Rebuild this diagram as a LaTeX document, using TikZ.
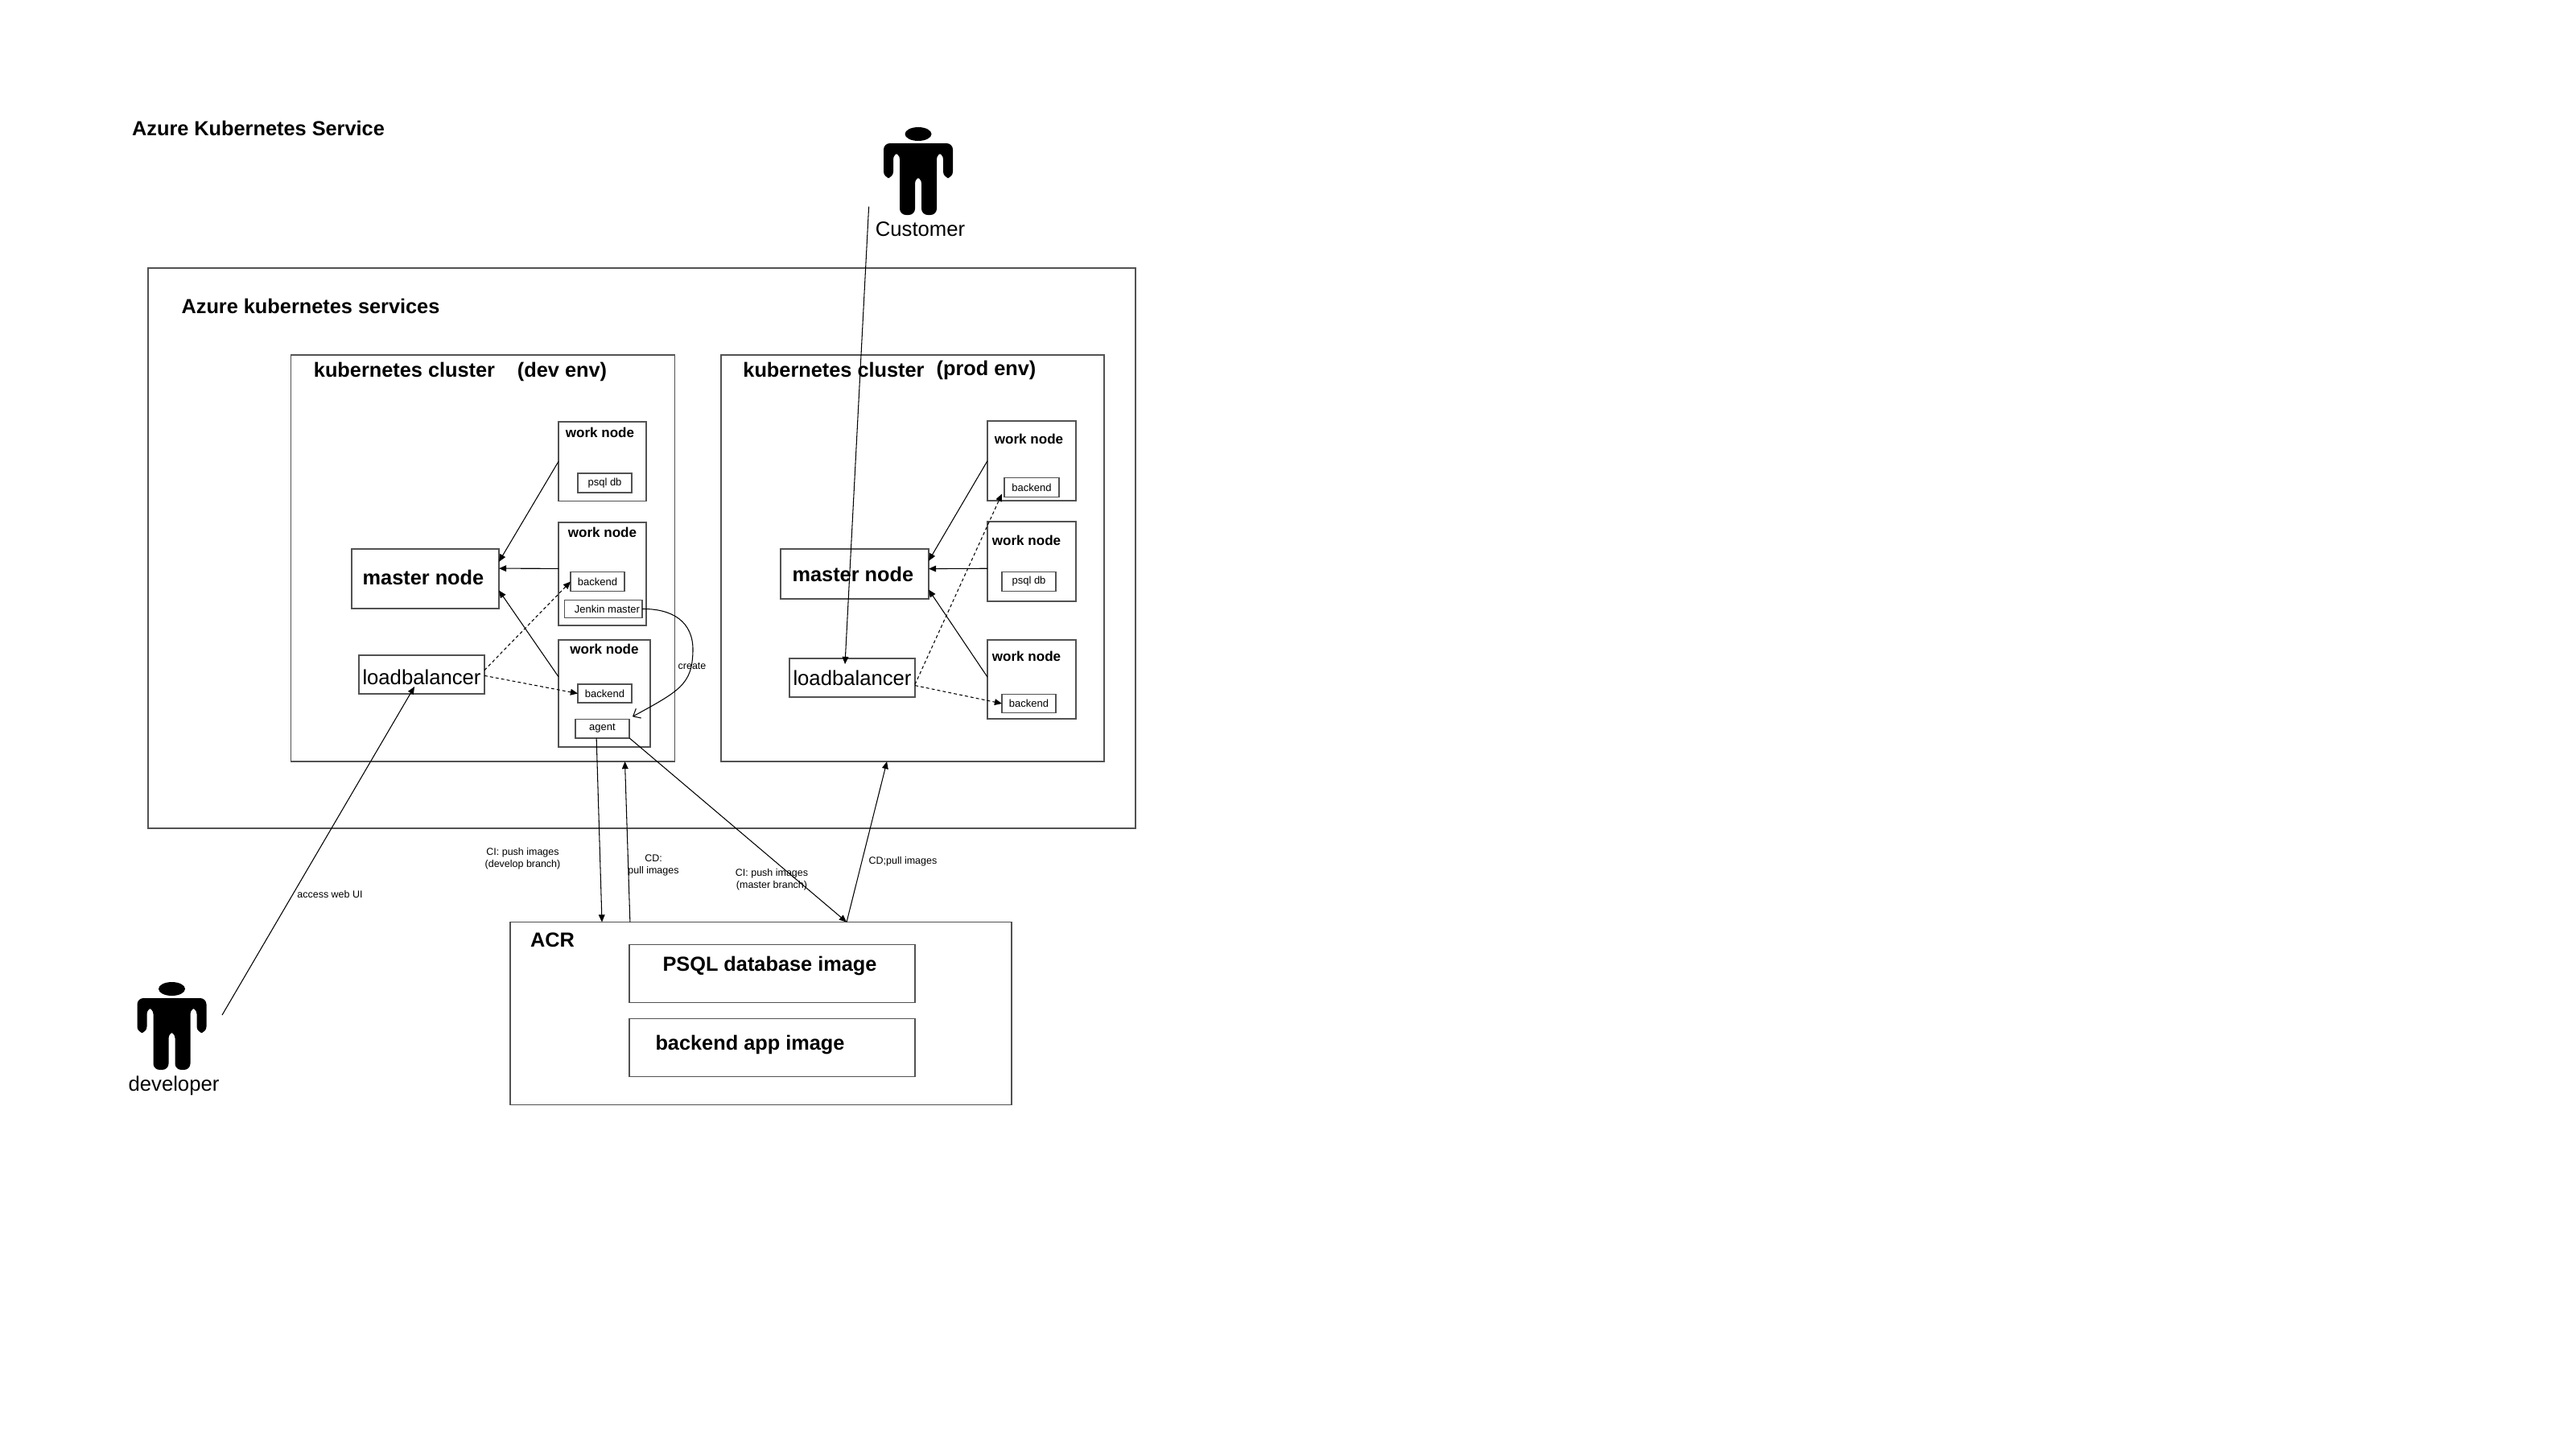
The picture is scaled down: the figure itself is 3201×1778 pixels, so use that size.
\documentclass[tikz,border=0pt]{standalone}
\usepackage{fontspec}
\setmainfont{Liberation Sans}
\usetikzlibrary{arrows.meta,calc}

\tikzset{
    boxline/.style={draw=black!68, line width=0.42pt, inner sep=0pt, outer sep=0pt, align=center},
    wh/.style 2 args={minimum width=#1*0.01cm, minimum height=#2*0.01cm},
    bigbold/.style={font=\fontsize{7.2}{8.6}\selectfont\bfseries, inner sep=0pt},
    bigplain/.style={font=\fontsize{7.3}{8.7}\selectfont, inner sep=0pt},
    workbold/.style={font=\fontsize{4.85}{5.8}\selectfont\bfseries, inner sep=0pt},
    smallbox/.style={boxline, font=\fontsize{3.7}{4.4}\selectfont},
    edgetext/.style={font=\fontsize{3.55}{4.27}\selectfont, inner sep=0pt, align=center},
    flow/.style={->, line width=0.3pt, draw=black},
    lbflow/.style={->, line width=0.3pt, draw=black, dash pattern=on 1.1pt off 0.9pt},
    person/.pic={
        \fill (0,8.5) ellipse [x radius=16.5, y radius=8.5];
        \fill[rounded corners=2.2pt] (-43,63) -- (-43,20) -- (43,20) -- (43,63) -- (31,63) -- (31,32)
            -- (23,32) -- (23,109) -- (4,109) -- (4,62) -- (-4,62) -- (-4,109) -- (-23,109)
            -- (-23,32) -- (-31,32) -- (-31,63) -- cycle;
    }
}

\begin{document}
\begin{tikzpicture}[x=0.01cm, y=-0.01cm, >={Triangle[length=2.6pt, width=2.2pt]}]
    \useasboundingbox (0,0) rectangle (3201,1778);

    % titles
    \node[bigbold] (titleAks) at (321,159) {Azure Kubernetes Service};
    \node[boxline, wh={1227}{696}] (aksBox) at (797.5,681) {};
    \node[bigbold] (aksLabel) at (386,380.5) {Azure kubernetes services};

    % people
    \pic at (1141,158) {person};
    \pic at (213.5,1220) {person};
    \node[bigplain] (customer) at (1143.5,285) {Customer};
    \node[bigplain] (developer) at (216,1349) {developer};
    \coordinate (customerFoot) at (1079.6,256.7);
    \coordinate (developerFoot) at (276,1261);

    % dev cluster
    \node[boxline, wh={477}{505}] (devCluster) at (600,693.5) {};
    \node[bigbold] (devClusterLabel) at (502.5,459) {kubernetes cluster};
    \node[bigbold] (devEnvLabel) at (698.5,462) {(dev env)};
    \node[boxline, wh={183}{74}] (masterDev) at (528.5,719) {};
    \node[bigbold] (masterDevLabel) at (526,717) {master node};
    \node[boxline, wh={156}{48}] (lbDev) at (524,838) {};
    \node[bigplain] (lbDevLabel) at (524,841.5) {loadbalancer};

    \node[boxline, wh={109}{98.5}] (workDevA) at (748.5,573.25) {};
    \node[workbold] (workDevALabel) at (745.5,537) {work node};
    \node[smallbox, wh={67}{24}] (psqlDev) at (751.5,600) {psql db};

    \node[boxline, wh={109}{128}] (workDevB) at (748.5,713) {};
    \node[workbold] (workDevBLabel) at (748.5,661) {work node};
    \node[smallbox, wh={67}{24}] (backendDevB) at (742.5,722.5) {backend};
    \node[smallbox, wh={96.6}{22}] (jenkinDev) at (749.7,756.5) {\hspace*{2.7pt}Jenkin master};

    \node[boxline, wh={114}{133}] (workDevC) at (751,861.5) {};
    \node[workbold] (workDevCLabel) at (751,806) {work node};
    \node[smallbox, wh={67}{23}] (backendDevC) at (751.5,861.5) {backend};
    \node[smallbox, wh={67}{23.5}] (agentDev) at (748.5,905) {agent};

    % prod cluster
    \node[boxline, wh={476}{505}] (prodCluster) at (1134,693.5) {};
    \node[bigbold] (prodClusterLabel) at (1036,459) {kubernetes cluster};
    \node[bigbold] (prodEnvLabel) at (1225.5,460) {(prod env)};
    \node[boxline, wh={184}{62}, bigbold] (masterProd) at (1062,713) {\hspace*{-1.2pt}master node};
    \node[boxline, wh={156}{48}, bigplain] (lbProd) at (1059,842) {loadbalancer};

    \node[boxline, wh={110}{99}] (workProdA) at (1282,572.5) {};
    \node[workbold] (workProdALabel) at (1278.5,545) {work node};
    \node[smallbox, wh={68}{24}] (backendProdA) at (1282,605.5) {backend};

    \node[boxline, wh={110}{99}] (workProdB) at (1282,697.5) {};
    \node[workbold] (workProdBLabel) at (1275.5,671) {work node};
    \node[smallbox, wh={67}{24}] (psqlProd) at (1278.5,722.5) {psql db};

    \node[boxline, wh={110}{98}] (workProdC) at (1282,844) {};
    \node[workbold] (workProdCLabel) at (1275.5,815) {work node};
    \node[smallbox, wh={67}{23}] (backendProdC) at (1278.5,874) {backend};

    % registry
    \node[boxline, wh={623}{227}] (acr) at (945.5,1259) {};
    \node[bigbold] (acrLabel) at (686.5,1167.5) {ACR};
    \node[boxline, wh={355}{72}] (psqlImage) at (959.5,1209.5) {};
    \node[bigbold] (psqlImageLabel) at (956.5,1200) {PSQL database image};
    \node[boxline, wh={355}{72}] (backendImage) at (959.5,1301.5) {};
    \node[bigbold] (backendImageLabel) at (932,1298) {backend app image};

    % connectors inside dev cluster
    \draw[flow] (workDevA.west) -- (masterDev.13);
    \draw[flow] (workDevB.173) -- (masterDev.8);
    \draw[flow] (workDevC.160) -- (masterDev.-9);
    \draw[lbflow] (lbDev.4) -- (backendDevB.west);
    \draw[lbflow] (lbDev.-1) -- (backendDevC.west);
    \draw[flow, >={Straight Barb[length=2.2pt, width=3.8pt]}] (jenkinDev.east)
        .. controls (835,756) and (862,772) .. (861,809)
        .. controls (860,850) and (845,858) .. ($(agentDev.north east)+(4,-3)$);

    % connectors inside prod cluster
    \draw[flow] (workProdA.west) -- (masterProd.10);
    \draw[flow] (workProdB.189) -- (masterProd.4);
    \draw[flow] (workProdC.177) -- (masterProd.-12);
    \draw[lbflow] (lbProd.-6) -- ($(backendProdA.south west)+(-3,-4)$);
    \draw[lbflow] (lbProd.-7) -- (backendProdC.west);

    % connectors from people and to the registry
    \draw[flow] (customerFoot) -- ($(lbProd.center)+(-9,-17)$);
    \draw[flow] (developerFoot) -- ($(lbDev.center)+(-9,15)$);
    \draw[flow] ($(agentDev.south west)!0.39!(agentDev.south east)$) -- ($(acr.north west)!0.183!(acr.north east)$);
    \draw[flow] ($(acr.north west)!0.239!(acr.north east)$) -- ($(devCluster.south west)!0.87!(devCluster.south east)$);
    \draw[flow] (agentDev.south east) -- ($(acr.north west)!0.671!(acr.north east)$);
    \draw[flow] ($(acr.north west)!0.671!(acr.north east)$) -- ($(prodCluster.south west)!0.433!(prodCluster.south east)$);

    % labels
    \node[edgetext] (createLabel) at (860,828) {create};
    \node[edgetext] (accessLabel) at (410,1111) {access web UI};
    \node[edgetext] (pushDevLabel) at (649.5,1066.5) {CI: push images\\(develop branch)};
    \node[edgetext] (pullDevLabel) at (812,1074.5) {CD:\\pull images};
    \node[edgetext] (pushProdLabel) at (959,1093) {CI: push images\\(master branch)};
    \node[edgetext] (pullProdLabel) at (1122,1070) {CD;pull images};
\end{tikzpicture}
\end{document}
